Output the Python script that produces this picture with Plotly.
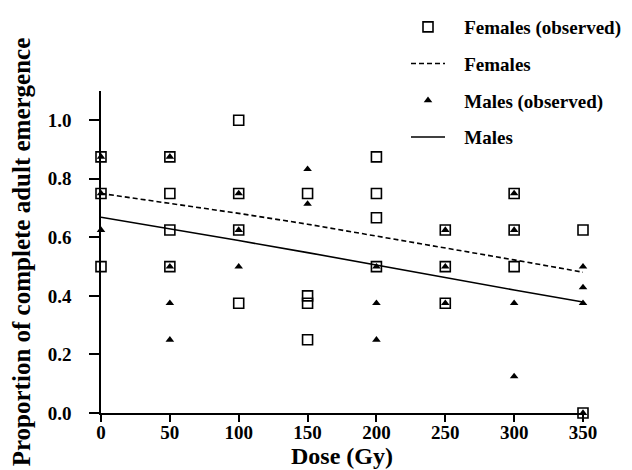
import plotly.graph_objects as go

# Observed data
fem_obs_x = [0, 0, 0,
             50, 50, 50, 50,
             100, 100, 100, 100,
             150, 150, 150, 150,
             200, 200, 200, 200,
             250, 250, 250,
             300, 300, 300,
             350, 350]
fem_obs_y = [0.875, 0.75, 0.5,
             0.875, 0.75, 0.625, 0.5,
             1.0, 0.75, 0.625, 0.375,
             0.75, 0.4, 0.375, 0.25,
             0.875, 0.75, 0.667, 0.5,
             0.625, 0.5, 0.375,
             0.75, 0.625, 0.5,
             0.625, 0.0]

male_obs_x = [0, 0, 0,
              50, 50, 50, 50,
              100, 100, 100,
              150, 150,
              200, 200, 200,
              250, 250, 250,
              300, 300, 300, 300,
              350, 350, 350, 350]
male_obs_y = [0.875, 0.75, 0.625,
              0.875, 0.5, 0.375, 0.25,
              0.75, 0.625, 0.5,
              0.833, 0.714,
              0.5, 0.375, 0.25,
              0.625, 0.5, 0.375,
              0.75, 0.625, 0.375, 0.125,
              0.5, 0.429, 0.375, 0.0]

# Fitted curves
fit_dose = [0, 50, 100, 150, 200, 250, 300, 350]
fem_fit = [0.750, 0.717, 0.682, 0.645, 0.605, 0.565, 0.523, 0.481]
male_fit = [0.669, 0.630, 0.589, 0.548, 0.505, 0.462, 0.420, 0.379]

x_ticks = [0, 50, 100, 150, 200, 250, 300, 350]
y_ticks = [0.0, 0.2, 0.4, 0.6, 0.8, 1.0]

FONT = "Liberation Serif, Times New Roman, serif"
PAD = "\u00a0\u00a0\u00a0"

fig = go.Figure()
fig.add_trace(go.Scatter(
    x=fem_obs_x, y=fem_obs_y, mode="markers", name=PAD + "Females (observed)",
    marker=dict(symbol="square-open", size=10, color="black", line=dict(width=1.6)),
    cliponaxis=False, legendgroup="a"))
fig.add_trace(go.Scatter(
    x=fit_dose, y=fem_fit, mode="lines", name=PAD + "Females",
    line=dict(color="black", width=1.6, dash="5px,3px"),
    cliponaxis=False, legendgroup="b"))
fig.add_trace(go.Scatter(
    x=male_obs_x, y=male_obs_y, mode="markers", name=PAD + "Males (observed)",
    marker=dict(symbol="triangle-up", size=7.5, color="black"),
    cliponaxis=False, legendgroup="c"))
fig.add_trace(go.Scatter(
    x=fit_dose, y=male_fit, mode="lines", name=PAD + "Males",
    line=dict(color="black", width=1.6),
    cliponaxis=False, legendgroup="d"))

fig.update_layout(
    width=632, height=470,
    margin=dict(l=93, r=57, t=83, b=65, autoexpand=False),
    paper_bgcolor="white", plot_bgcolor="white",
    font=dict(family=FONT, color="black", size=17),
    legend=dict(
        xref="container", yref="container",
        x=398 / 632, y=1 + 8 / 470, xanchor="left", yanchor="top",
        font=dict(family=FONT, size=19, color="black", weight="bold"),
        tracegroupgap=9, traceorder="grouped",
        bgcolor="rgba(0,0,0,0)", itemwidth=34,
    ),
    xaxis=dict(
        range=[0, 350], tickvals=x_ticks, ticktext=[str(v) for v in x_ticks],
        showline=True, linecolor="black", linewidth=1.5,
        ticks="outside", ticklen=7, tickwidth=1.5, tickcolor="black",
        showgrid=False, zeroline=False, ticklabelstandoff=-6,
        tickfont=dict(family=FONT, size=19, weight="bold"),
        title=dict(text="Dose (Gy)", font=dict(family=FONT, size=24, weight="bold"), standoff=2),
    ),
    yaxis=dict(
        range=[0, 1.1], tickvals=y_ticks, ticktext=["%.1f" % v for v in y_ticks],
        showline=True, linecolor="black", linewidth=1.5,
        ticks="outside", ticklen=10, tickwidth=1.5, tickcolor="black",
        showgrid=False, zeroline=False, ticklabelstandoff=14,
        tickfont=dict(family=FONT, size=19, weight="bold"),
        title=dict(text="Proportion of complete adult emergence",
                   font=dict(family=FONT, size=25, weight="bold"), standoff=10),
    ),
)

fig.write_html("out.html")
